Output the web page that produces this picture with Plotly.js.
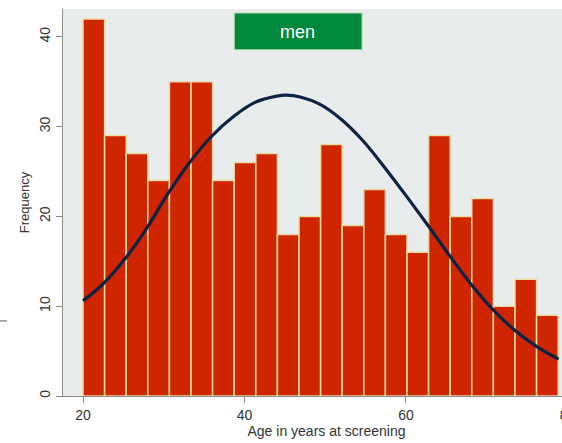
<!DOCTYPE html>
<html><head><meta charset="utf-8">
<script src="https://cdn.plot.ly/plotly-3.0.1.min.js"></script>
<style>html,body{margin:0;padding:0;overflow:hidden;background:#fff;width:562px;height:443px}</style>
</head><body><div id="chart"></div>
<script>
// Histogram bins (age, years) and counts
const binStart = 20;
const binWidth = 2.675;
const counts = [42, 29, 27, 24, 35, 35, 24, 26, 27, 18, 20, 28, 19, 23, 18, 16, 29, 20, 22, 10, 13, 9];

// Normal-density overlay, points
const curveX = [20, 22.5, 25.4, 27.9, 30.5, 33.2, 35.9, 38.6, 41.3, 44, 45.2, 46.9, 49.3, 52, 54.7, 57.4, 60.1, 62.8, 65.5, 68.1, 70.8, 73.5, 76.2, 78.9];
const curveY = [10.6, 12.5, 15.5, 18.7, 22.5, 26.0, 28.9, 31.1, 32.7, 33.4, 33.5, 33.3, 32.5, 30.8, 28.4, 25.4, 22.2, 18.9, 15.5, 12.4, 9.6, 7.3, 5.5, 4.1];

const xTicks = [20, 40, 60, 80];
const yTicks = [0, 10, 20, 30, 40];
const panelLabel = "men";

const centers = counts.map((c, i) => binStart + binWidth * (i + 0.5));

const traces = [
  {
    type: 'bar', x: centers, y: counts, width: binWidth,
    marker: {color: '#CF2600', line: {color: '#EBD9A6', width: 1.5}},
    hoverinfo: 'skip'
  },
  {
    type: 'scatter', mode: 'lines', x: curveX, y: curveY,
    line: {color: '#0C2346', width: 3.2, shape: 'spline', smoothing: 1},
    hoverinfo: 'skip'
  }
];

const layout = {
  width: 600, height: 443,
  margin: {l: 63, r: 10, t: 9, b: 47.3},
  paper_bgcolor: '#ffffff', plot_bgcolor: '#E8ECED',
  showlegend: false, bargap: 0,
  font: {family: 'Liberation Sans, Arial, sans-serif', color: '#333333'},
  xaxis: {
    range: [17.52, 82.79], tickvals: xTicks, ticktext: xTicks.map(String),
    showgrid: false, zeroline: false, showline: true, linecolor: '#8a8a8a', linewidth: 1.2,
    ticks: 'outside', ticklen: 6, tickcolor: '#8a8a8a',
    tickfont: {size: 14, color: '#333'},
    title: {text: 'Age in years at screening', font: {size: 14, color: '#333'}, standoff: 2}
  },
  yaxis: {
    range: [0, 43.1], tickvals: yTicks, ticktext: yTicks.map(String),
    showgrid: false, zeroline: false, showline: true, linecolor: '#8a8a8a', linewidth: 1.2,
    ticks: 'outside', ticklen: 6, tickcolor: '#8a8a8a', tickangle: -90,
    tickfont: {size: 14, color: '#333'},
    title: {text: 'Frequency', font: {size: 13, color: '#333'}, standoff: 4}
  },
  shapes: [
    {type: 'rect', xref: 'paper', yref: 'paper', x0: 0.325, x1: 0.5674, y0: 0.8947, y1: 0.9896,
     fillcolor: '#00893D', line: {color: '#B9D9A0', width: 1}},
    {type: 'line', xref: 'paper', yref: 'paper', x0: -0.1195, x1: -0.1062, y0: 0.194, y1: 0.194,
     line: {color: '#777', width: 1.2}}
  ],
  annotations: [
    {xref: 'paper', yref: 'paper', x: 0.4459, y: 0.9405, text: panelLabel, showarrow: false,
     font: {size: 18, color: '#ffffff'}, xanchor: 'center', yanchor: 'middle'}
  ]
};

Plotly.newPlot('chart', traces, layout, {displayModeBar: false, staticPlot: true});
</script></body></html>
